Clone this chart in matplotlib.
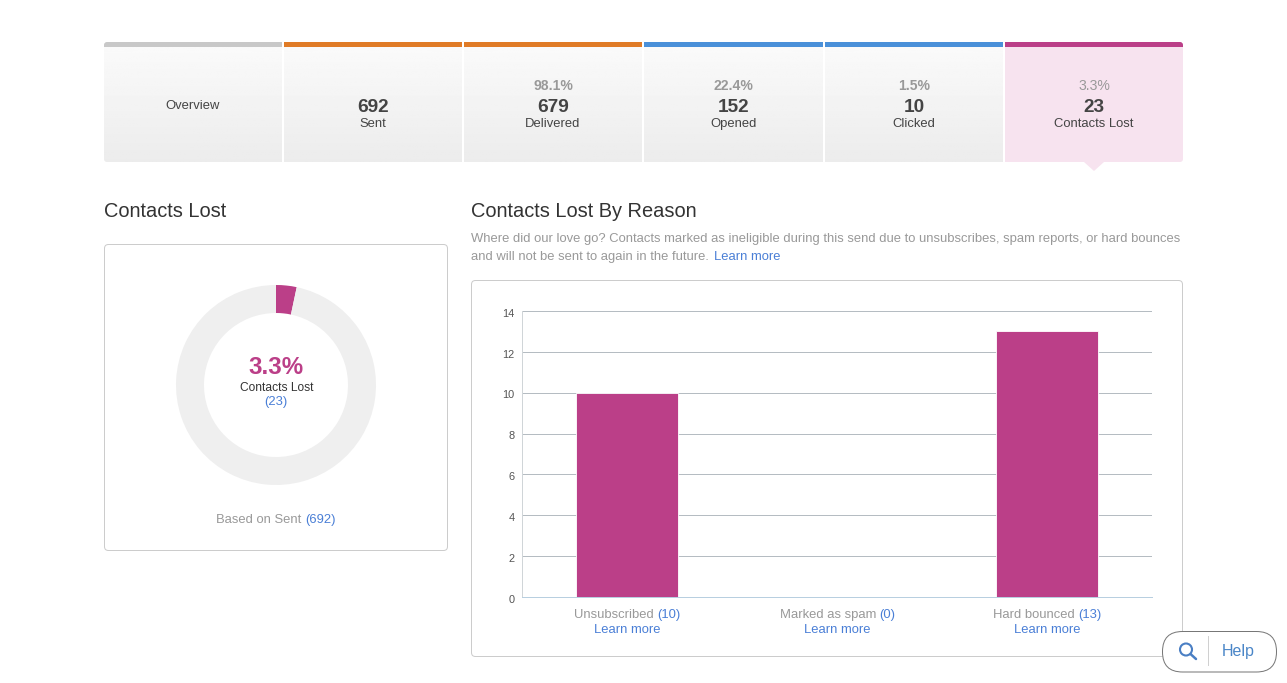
import numpy as np
import matplotlib
matplotlib.use("Agg")
import matplotlib.pyplot as plt
from matplotlib.patches import FancyBboxPatch, Rectangle, Polygon, Circle
from matplotlib.transforms import ScaledTranslation

plt.rcParams['font.family'] = ['Liberation Sans', 'DejaVu Sans']

# tiles along the top
tile_pcts = ["", "", "98.1%", "22.4%", "1.5%", "3.3%"]
tile_counts = ["", "692", "679", "152", "10", "23"]
tile_labels = ["Overview", "Sent", "Delivered", "Opened", "Clicked", "Contacts Lost"]
tile_colors = ["#c8c8c8", "#e07b26", "#e07b26", "#4a90d9", "#4a90d9", "#bb3f88"]
tile_lefts = [104, 284, 464, 644, 825, 1005]
tile_rights = [282, 462, 642, 823, 1003, 1183]

# donut
lost_count = 23
sent_count = 692

# bars
categories = ["Unsubscribed", "Marked as spam", "Hard bounced"]
reasons = [10, 0, 13]
y_ticks = [0, 2, 4, 6, 8, 10, 12, 14]

MAGENTA = "#bb3f88"
LINK = "#4a7fd6"
GREY = "#999999"
DARK = "#444444"
THIN = 0.72  # one pixel line


def px(size):
    return size * 0.72


fig = plt.figure(figsize=(12.87, 6.83), dpi=100, facecolor="white")

# whole page axes in pixel coordinates
bg = fig.add_axes([0, 0, 1, 1])
bg.set_xlim(0, 1287)
bg.set_ylim(683, 0)
bg.axis("off")


def axes_at(left, top, right, bottom):
    return fig.add_axes([left / 1287, 1 - bottom / 683, (right - left) / 1287, (bottom - top) / 683])


def mixed_text(x, baseline, parts, size):
    """Centered line of text with pieces in different colors."""
    renderer = fig.canvas.get_renderer()
    pieces = [bg.text(0, baseline, s, color=c, fontsize=px(size), va="baseline", ha="left") for s, c in parts]
    widths = [p.get_window_extent(renderer).width for p in pieces]
    # trailing spaces are not measured reliably, so add them by hand
    space = size * 0.278
    total = sum(widths) + space * (len(parts) - 1)
    cur = x - total / 2
    for p, w in zip(pieces, widths):
        p.set_x(cur)
        cur += w + space


# tiles, clipped to one rounded strip
strip = FancyBboxPatch((107, 45), 1073, 114, boxstyle="round,pad=3,rounding_size=3", transform=bg.transData)
gradient = np.linspace(0.98, 0.925, 64).reshape(-1, 1)
for i in range(6):
    l, r = tile_lefts[i], tile_rights[i]
    cx = (l + r) / 2
    if i < 5:
        body = bg.imshow(gradient, extent=(l, r, 162, 47), cmap="gray", vmin=0, vmax=1, aspect="auto", zorder=1)
    else:
        body = bg.add_patch(Rectangle((l, 47), r - l, 115, fc="#f7e3ef", ec="none", zorder=1))
    head = bg.add_patch(Rectangle((l, 42), r - l, 5, fc=tile_colors[i], ec="none", zorder=2))
    body.set_clip_path(strip)
    head.set_clip_path(strip)
    if i == 0:
        bg.text(cx, 109, tile_labels[i], color=DARK, fontsize=px(13), ha="center", va="baseline")
        continue
    if tile_pcts[i]:
        bg.text(cx, 90.5, tile_pcts[i], color=GREY, fontsize=px(14), ha="center", va="baseline", fontweight="bold" if i < 5 else "normal")
    bg.text(cx, 111.5, tile_counts[i], color=DARK, fontsize=px(19), ha="center", va="baseline", fontweight="bold")
    bg.text(cx, 127, tile_labels[i], color=DARK, fontsize=px(13), ha="center", va="baseline")
bg.set_xlim(0, 1287)
bg.set_ylim(683, 0)
bg.add_patch(Polygon([(1084, 162), (1104, 162), (1094, 171)], fc="#f7e3ef", ec="none", zorder=1))

# headings
bg.text(104, 217, "Contacts Lost", color="#333333", fontsize=px(20), ha="left", va="baseline")
bg.text(471, 217, "Contacts Lost By Reason", color="#333333", fontsize=px(20), ha="left", va="baseline")
bg.text(471, 242, "Where did our love go? Contacts marked as ineligible during this send due to unsubscribes, spam reports, or hard bounces",
        color=GREY, fontsize=px(13), ha="left", va="baseline")
bg.text(471, 260, "and will not be sent to again in the future.", color=GREY, fontsize=px(13), ha="left", va="baseline")
bg.text(714, 260, "Learn more", color=LINK, fontsize=px(13), ha="left", va="baseline")

# panels
for l, t, r, b in [(104.5, 244.5, 447.5, 550.5), (471.5, 280.5, 1182.5, 656.5)]:
    bg.add_patch(FancyBboxPatch((l + 3, t + 3), r - l - 6, b - t - 6, boxstyle="round,pad=3,rounding_size=4",
                                fc="white", ec="#cccccc", lw=THIN, zorder=0.5))

# donut
dax = axes_at(176, 285, 376, 485)
dax.pie([lost_count, sent_count - lost_count], colors=[MAGENTA, "#efefef"], startangle=90, counterclock=False,
        radius=1, wedgeprops=dict(width=0.28))
dax.set_xlim(-1, 1)
dax.set_ylim(-1, 1)
dax.patch.set_alpha(0)

bg.text(276, 374, "3.3%", color=MAGENTA, fontsize=px(24), fontweight="bold", ha="center", va="baseline")
bg.text(276.5, 391, "Contacts Lost", color="#333333", fontsize=px(12), ha="center", va="baseline")
bg.text(276, 405, "(23)", color=LINK, fontsize=px(13), ha="center", va="baseline")
mixed_text(276, 523, [("Based on Sent", GREY), ("(692)", LINK)], 13)

# bar chart
ax = axes_at(522, 311, 1152, 597)
ax.bar(range(3), reasons, width=0.482, color=MAGENTA, edgecolor="white", linewidth=0.6, zorder=3)
ax.set_xlim(-0.5, 2.5)
ax.set_ylim(0, 14)
ax.set_yticks(y_ticks)
ax.set_xticks([])
ax.grid(axis="y", color="#b5bcc2", lw=THIN, zorder=1)
ax.set_axisbelow(True)
for s in ["top", "right"]:
    ax.spines[s].set_visible(False)
ax.spines["left"].set_color("#d0d5d8")
ax.spines["left"].set_linewidth(THIN)
ax.spines["bottom"].set_color("#b8cfe0")
ax.spines["bottom"].set_linewidth(THIN)
ax.tick_params(axis="y", length=0, pad=5.5, labelsize=px(11), labelcolor="#555555")
for lab in ax.get_yticklabels():
    lab.set_transform(lab.get_transform() + ScaledTranslation(0, -1.2 / 72, fig.dpi_scale_trans))

for i, cat in enumerate(categories):
    cx = 627 + 210 * i
    mixed_text(cx + 0.5, 618, [(cat, GREY), (f"({reasons[i]})", LINK)], 13)
    bg.text(cx + 0.5, 633, "Learn more", color=LINK, fontsize=px(13), ha="center", va="baseline")

# help button
top = fig.add_axes([0, 0, 1, 1])
top.set_xlim(0, 1287)
top.set_ylim(683, 0)
top.axis("off")
top.patch.set_alpha(0)
top.add_patch(FancyBboxPatch((1182.5, 651.5), 74, 0.5, boxstyle="round,pad=20,rounding_size=20",
                             fc="white", ec="#777777", lw=THIN))
top.add_patch(Circle((1186, 649.5), 6, fc="none", ec="#4a7fc4", lw=1.5))
top.plot([1190.5, 1196], [654, 659], color="#4a7fc4", lw=1.8, solid_capstyle="round")
top.plot([1207.5, 1207.5], [636, 665], color="#d0d0d0", lw=THIN)
top.text(1222, 651.5, "Help", color="#4a86c8", fontsize=px(16), ha="left", va="center")

fig.savefig("out.png", dpi=100, facecolor="white")
